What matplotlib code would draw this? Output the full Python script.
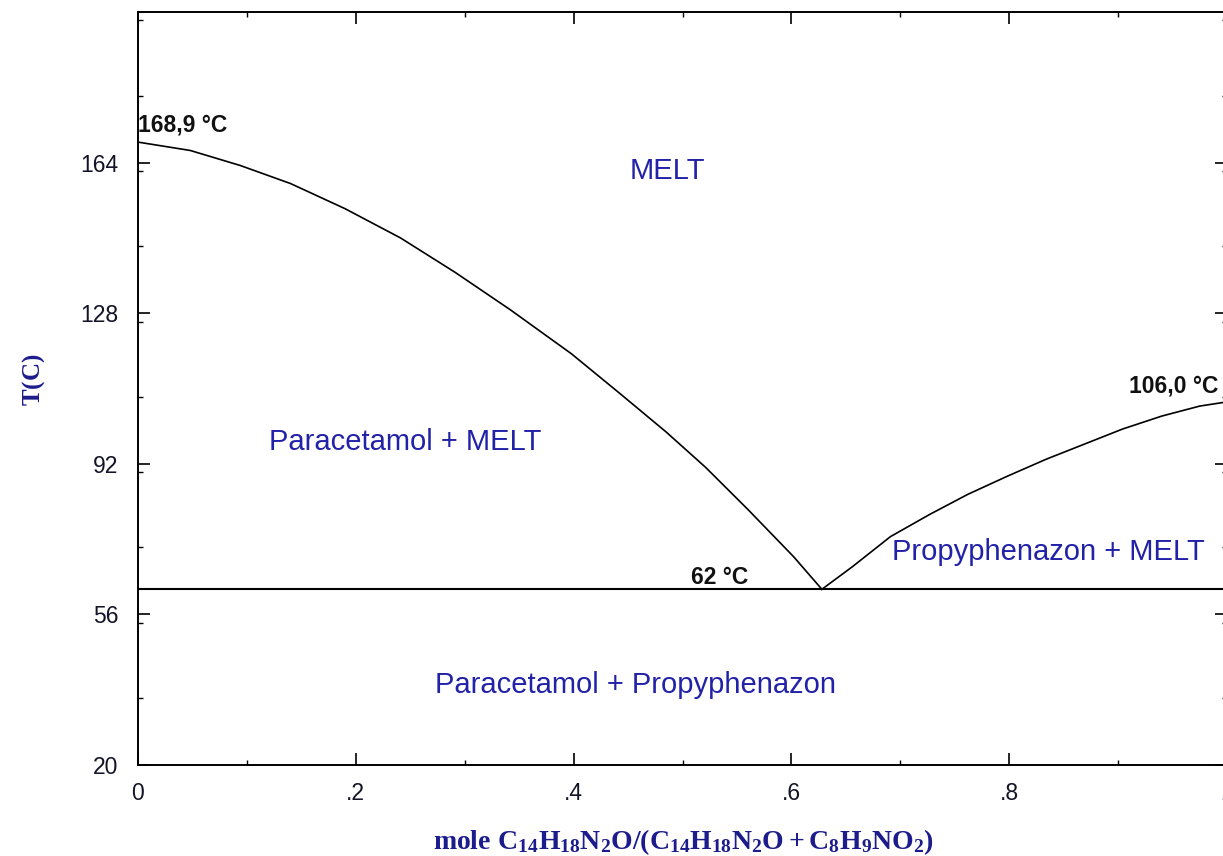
import matplotlib
matplotlib.use("Agg")
import matplotlib.pyplot as plt
from matplotlib.ticker import MultipleLocator, FixedLocator

plt.rcParams['font.family'] = ['Liberation Sans', 'DejaVu Sans']
plt.rcParams['mathtext.fontset'] = 'custom'
plt.rcParams['mathtext.rm'] = 'Liberation Serif:bold'
plt.rcParams['mathtext.it'] = 'Liberation Serif:bold'
plt.rcParams['mathtext.bf'] = 'Liberation Serif:bold'

# Liquidus of paracetamol (left branch)
left_x = [0.0, 0.048, 0.094, 0.140, 0.190, 0.241, 0.291, 0.342, 0.398,
          0.443, 0.485, 0.521, 0.560, 0.602, 0.628]
left_T = [168.9, 166.9, 163.3, 159.0, 153.0, 146.0, 137.8, 128.8, 118.3,
          108.7, 99.6, 91.2, 81.1, 69.8, 62.0]
# Liquidus of propyphenazon (right branch)
right_x = [0.628, 0.656, 0.691, 0.727, 0.762, 0.798, 0.834, 0.869, 0.904,
           0.940, 0.975, 1.0]
right_T = [62.0, 67.4, 74.6, 79.9, 84.7, 89.0, 93.1, 96.7, 100.3,
           103.4, 105.8, 106.8]
eutectic_T = 62.0

x_ticks = [0, 0.2, 0.4, 0.6, 0.8, 1.0]
x_tick_labels = ['0', '.2', '.4', '.6', '.8', '1']
y_ticks = [20, 56, 92, 128, 164]

region_labels = ['MELT', 'Paracetamol + MELT', 'Propyphenazon + MELT',
                 'Paracetamol + Propyphenazon']
region_pos = [(0.486, 161.9), (0.245, 97.2), (0.836, 70.8), (0.457, 39.2)]

fig = plt.figure(figsize=(12.23, 8.56), dpi=100)
ax = fig.add_axes([138/1223, 1-765/856, 1089/1223, (765-12)/856])

ax.plot(left_x, left_T, color='black', lw=1.2)
ax.plot(right_x, right_T, color='black', lw=1.2)
ax.axhline(eutectic_T, color='black', lw=1.5)

ax.set_xlim(0, 1)
ax.set_ylim(20, 200)

ax.xaxis.set_major_locator(FixedLocator(x_ticks))
ax.set_xticklabels(x_tick_labels)
ax.xaxis.set_minor_locator(MultipleLocator(0.1))
ax.yaxis.set_major_locator(FixedLocator(y_ticks))
ax.yaxis.set_minor_locator(MultipleLocator(18))

ax.tick_params(which='both', direction='in', top=True, right=True,
               labelsize=16.5, labelcolor='#141428', color='black')
ax.tick_params(which='major', length=8.5, width=1.2)
ax.tick_params(which='minor', length=3.5, width=1.0)
ax.tick_params(axis='y', pad=14)
ax.tick_params(axis='x', pad=12)
for s in ax.spines.values():
    s.set_linewidth(1.4)

navy = '#1c1c8c'
ax.set_ylabel(r'$\mathrm{T(C)}$', fontsize=18, color=navy)
ax.yaxis.set_label_coords(-0.084, 0.511)
ax.set_xlabel(r'$\mathrm{mole\ C_{14}H_{18}N_{2}O/(C_{14}H_{18}N_{2}O+C_{8}H_{9}NO_{2})}$',
              fontsize=20, color=navy)
ax.xaxis.set_label_coords(0.5005, -0.083)

blue = '#2222a8'
for lab, (xx, yy) in zip(region_labels, region_pos):
    ax.text(xx, yy, lab, color=blue, fontsize=21, ha='center', va='center')

ax.text(0.0, 172.9, '168,9 °C', fontsize=16.5, fontweight='bold', color='#111111',
        ha='left', va='center')
ax.text(0.534, 64.8, '62 °C', fontsize=16.5, fontweight='bold', color='#111111',
        ha='center', va='center')
ax.text(0.992, 110.6, '106,0 °C', fontsize=16.5, fontweight='bold', color='#111111',
        ha='right', va='center')

fig.savefig('out.png', dpi=100)
